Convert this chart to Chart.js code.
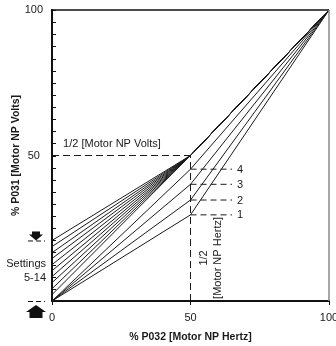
<!DOCTYPE html>
<html>
<head>
<meta charset="utf-8">
<script src="https://cdn.jsdelivr.net/npm/chart.js@4.4.0/dist/chart.umd.min.js"></script>
<style>
  html, body { margin: 0; padding: 0; background: #fff; }
  #wrap { width: 336px; height: 346px; }
</style>
</head>
<body>
<div id="wrap"><canvas id="myChart"></canvas></div>
<script>
// % volts at 0 Hz for boost settings 5-14
const boostVolts = [20.8, 18.7, 16.6, 14.6, 12.5, 10.4, 8.4, 6.3, 4.2, 2.2];
// settings 1-4: % volts reached at half hertz
const kneeLabels = ['1', '2', '3', '4'];
const kneeVolts = [29.6, 34.7, 40.1, 45.3];
const halfHz = 50, halfVolts = 50;
const fullHz = 100, fullVolts = 100;
const levelDashEnd = 65;
const xTickValues = [0, 50, 100];
const yTickLabels = [50, 100];

const FONT = "'Liberation Sans', Arial, Helvetica, sans-serif";
const INK = '#1a1a1a';

const datasets = [];
boostVolts.forEach(v => {
    datasets.push({
        data: [{x: 0, y: v}, {x: halfHz, y: halfVolts}, {x: fullHz, y: fullVolts}],
        borderColor: INK, borderWidth: 1
    });
});
kneeVolts.forEach(v => {
    datasets.push({
        data: [{x: 0, y: 0}, {x: halfHz, y: v}, {x: fullHz, y: fullVolts}],
        borderColor: INK, borderWidth: 1
    });
    // short dashed level mark
    datasets.push({
        data: [{x: halfHz, y: v}, {x: levelDashEnd, y: v}],
        borderColor: INK, borderWidth: 1, borderDash: [6, 4]
    });
});
// half volts / half hertz guides
datasets.push({
    data: [{x: 0, y: halfVolts}, {x: halfHz, y: halfVolts}],
    borderColor: INK, borderWidth: 1, borderDash: [7, 4]
});
datasets.push({
    data: [{x: halfHz, y: 0}, {x: halfHz, y: halfVolts}],
    borderColor: INK, borderWidth: 1, borderDash: [7, 4]
});

const extras = {
    id: 'extras',
    afterDraw(chart) {
        const {ctx, chartArea: a} = chart;
        const xs = chart.scales.x, ys = chart.scales.y;
        ctx.save();

        // frame top + right
        ctx.lineWidth = 1.5;
        ctx.strokeStyle = '#111';
        ctx.beginPath();
        ctx.moveTo(a.left, a.top);
        ctx.lineTo(a.right, a.top);
        ctx.stroke();
        ctx.strokeStyle = '#8a8a8a';
        ctx.beginPath();
        ctx.moveTo(a.right, a.top);
        ctx.lineTo(a.right, a.bottom);
        ctx.stroke();

        // little inside ticks on y axis
        ctx.strokeStyle = '#111';
        ctx.lineWidth = 1;
        ys.ticks.forEach(t => {
            const p = Math.round(ys.getPixelForValue(t.value)) + 0.5;
            ctx.beginPath();
            ctx.moveTo(a.left, p);
            ctx.lineTo(a.left + 4, p);
            ctx.stroke();
        });

        ctx.fillStyle = INK;
        ctx.font = '11px ' + FONT;

        // half volts label
        ctx.textAlign = 'left';
        ctx.textBaseline = 'middle';
        ctx.fillText('1/2 [Motor NP Volts]', xs.getPixelForValue(4), ys.getPixelForValue(halfVolts) - 12);

        // setting numbers
        kneeVolts.forEach((v, i) => {
            ctx.fillText(kneeLabels[i], xs.getPixelForValue(66.8), ys.getPixelForValue(v) + 0.5);
        });

        // rotated half hertz label
        ctx.save();
        ctx.textAlign = 'center';
        ctx.translate(xs.getPixelForValue(54.9), ys.getPixelForValue(14.8));
        ctx.rotate(-Math.PI / 2);
        ctx.fillText('1/2', 0, 0);
        ctx.fillText('[Motor NP Hertz]', 0, 14);
        ctx.restore();

        // settings 5-14 note
        ctx.textAlign = 'right';
        ctx.fillText('Settings', a.left - 6, ys.getPixelForValue(12.8));
        ctx.fillText('5-14', a.left - 6, ys.getPixelForValue(7.9));

        // arrows
        const cx = a.left - 16;
        const topY = ys.getPixelForValue(boostVolts[0]);
        const botY = ys.getPixelForValue(0);
        ctx.fillStyle = '#111';
        ctx.beginPath();
        ctx.rect(cx - 4, topY - 9, 8, 3.5);
        ctx.fill();
        ctx.beginPath();
        ctx.moveTo(cx - 7, topY - 6);
        ctx.lineTo(cx + 7, topY - 6);
        ctx.lineTo(cx, topY);
        ctx.closePath();
        ctx.fill();

        ctx.beginPath();
        ctx.moveTo(cx, botY + 4);
        ctx.lineTo(cx + 10, botY + 11);
        ctx.lineTo(cx - 10, botY + 11);
        ctx.closePath();
        ctx.fill();
        ctx.beginPath();
        ctx.rect(cx - 6.5, botY + 10.5, 13, 6.5);
        ctx.fill();

        ctx.strokeStyle = '#111';
        ctx.lineWidth = 1;
        ctx.setLineDash([5, 3]);
        [topY, botY].forEach(yy => {
            ctx.beginPath();
            ctx.moveTo(cx - 8, yy + 0.5);
            ctx.lineTo(cx + 9, yy + 0.5);
            ctx.stroke();
        });
        ctx.restore();
    }
};

const ctx = document.getElementById('myChart');

new Chart(ctx, {
    type: 'scatter',
    data: { datasets: datasets },
    options: {
        responsive: true,
        maintainAspectRatio: false,
        animation: false,
        showLine: true,
        elements: {
            point: { radius: 0, hoverRadius: 0 },
            line: { tension: 0, fill: false }
        },
        layout: { padding: { left: 6, top: 10, right: 7, bottom: 0 } },
        plugins: {
            legend: { display: false },
            tooltip: { enabled: false }
        },
        scales: {
            x: {
                type: 'linear',
                min: 0, max: 100,
                afterBuildTicks: s => { s.ticks = xTickValues.map(v => ({value: v})); },
                afterFit: s => { s.height = 45; s.paddingLeft = 0; s.paddingRight = 0; },
                grid: { drawOnChartArea: false, drawTicks: true, tickLength: 4, color: '#111' },
                border: { color: '#111', width: 2 },
                ticks: {
                    padding: 6,
                    color: INK,
                    font: { family: FONT, size: 11 },
                    maxRotation: 0,
                    autoSkip: false
                },
                title: {
                    display: true,
                    text: '% P032 [Motor NP Hertz]',
                    color: INK,
                    font: { family: FONT, size: 10.5, weight: 'bold' },
                    padding: { top: 0, bottom: 3 }
                }
            },
            y: {
                type: 'linear',
                min: 0, max: 100,
                afterBuildTicks: s => {
                    const t = [];
                    for (let i = 0; i <= 24; i++) t.push({value: i * 100 / 24});
                    s.ticks = t;
                },
                afterFit: s => { s.width = 46; s.paddingTop = 0; s.paddingBottom = 0; },
                grid: { drawOnChartArea: false, drawTicks: false },
                border: { color: '#111', width: 2 },
                ticks: {
                    padding: 9,
                    crossAlign: 'center',
                    color: INK,
                    autoSkip: false,
                    font: { family: FONT, size: 11 },
                    callback: v => yTickLabels.includes(v) ? String(v) : ''
                },
                title: {
                    display: true,
                    text: '% P031 [Motor NP Volts]',
                    color: INK,
                    font: { family: FONT, size: 10.5, weight: 'bold' },
                    padding: { top: 4, bottom: 0 }
                }
            }
        }
    },
    plugins: [extras]
});
</script>
</body>
</html>
